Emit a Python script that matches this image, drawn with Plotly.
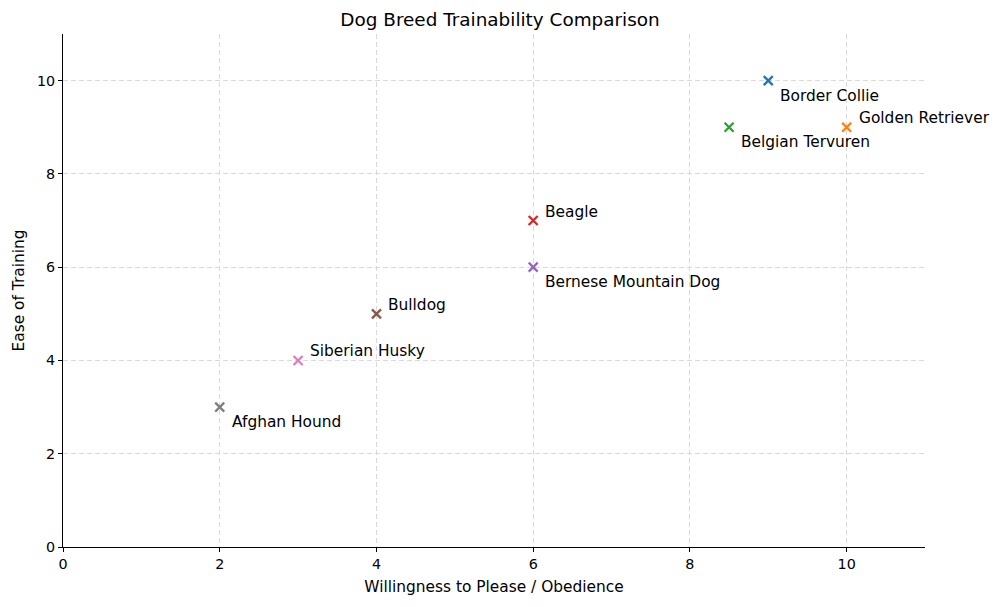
import plotly.graph_objects as go

breeds = ["Border Collie", "Golden Retriever", "Belgian Tervuren", "Beagle",
          "Bernese Mountain Dog", "Bulldog", "Siberian Husky", "Afghan Hound"]
willingness = [9, 10, 8.5, 6, 6, 4, 3, 2]
ease = [10, 9, 9, 7, 6, 5, 4, 3]
colors = ["#1f77b4", "#ff7f0e", "#2ca02c", "#d62728", "#9467bd", "#8c564b", "#e377c2", "#7f7f7f"]
label_pos = ["below", "above", "below", "above", "below", "above", "above", "below"]

fig = go.Figure()
for b, x, y, c in zip(breeds, willingness, ease, colors):
    fig.add_trace(go.Scatter(x=[x], y=[y], mode="markers", name=b,
                             marker=dict(symbol="x-thin", size=9, color=c,
                                         line=dict(width=2.3, color=c))))
for b, x, y, p in zip(breeds, willingness, ease, label_pos):
    fig.add_annotation(x=x, y=y, text=b, showarrow=False, xanchor="left", yanchor="middle",
                       xshift=10, yshift=(-15 if p == "below" else 9),
                       font=dict(size=15.4, color="black"))

axis_common = dict(showline=True, linecolor="black", linewidth=1, ticks="outside",
                   ticklen=4, tickcolor="black", showgrid=True, gridcolor="#d9d9d9",
                   griddash="5px,3px", gridwidth=1, zeroline=False, mirror=False,
                   tickfont=dict(size=14.3, color="black"))
fig.update_layout(
    width=1000, height=607, plot_bgcolor="white", paper_bgcolor="white",
    margin=dict(l=63, r=75, t=34, b=60), showlegend=False,
    font=dict(family="DejaVu Sans", color="black"),
    title=dict(text="Dog Breed Trainability Comparison", x=0.5, xanchor="center",
               y=0.978, yanchor="top", font=dict(size=18.4)),
    xaxis=dict(range=[0, 11], dtick=2, title=dict(text="Willingness to Please / Obedience",
               font=dict(size=15.4), standoff=10), **axis_common),
    yaxis=dict(range=[0, 11], dtick=2, title=dict(text="Ease of Training",
               font=dict(size=15.4), standoff=8), **axis_common),
)
fig.write_html("out.html")
